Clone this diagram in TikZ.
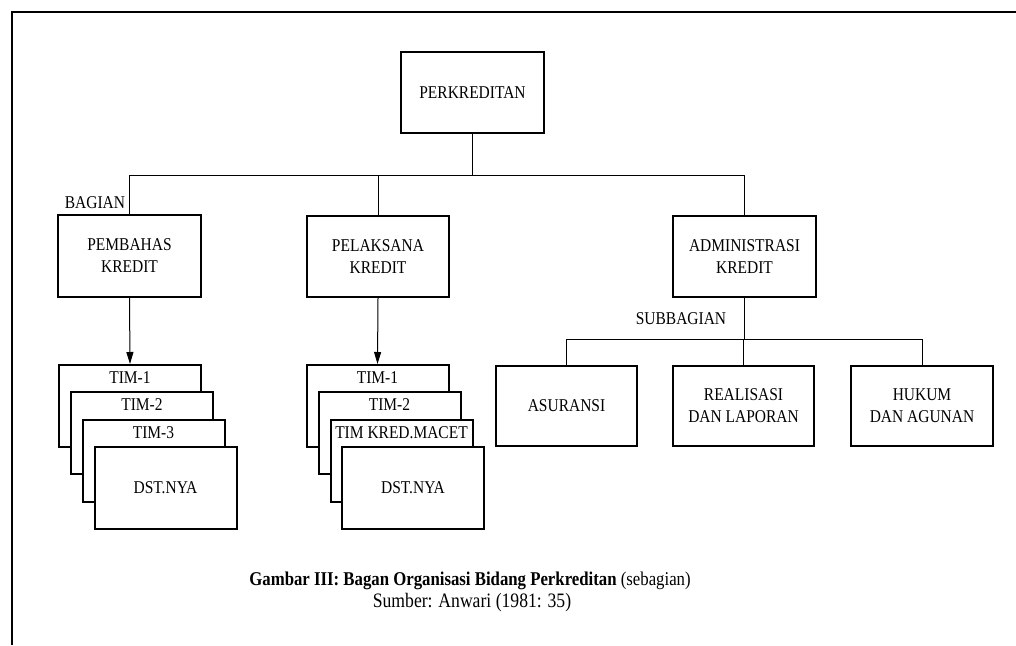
\documentclass[tikz,border=0pt]{standalone}
\usepackage{fontspec}
\setmainfont{Liberation Serif}[FakeStretch=0.86]
\usetikzlibrary{arrows.meta}

\tikzset{
  unit/.style={draw, line width=2pt, fill=white, minimum width=143pt,
               minimum height=81pt, inner sep=0pt, align=center,
               font=\fontsize{18}{22}\selectfont},
  team/.style={unit, minimum width=142pt, minimum height=82pt},
  tlabel/.style={inner sep=0pt, font=\fontsize{18}{22}\selectfont},
  link/.style={line width=1pt, draw=black},
  down/.style={link, -{Triangle[width=7pt,length=12pt]}},
}

\begin{document}
\begin{tikzpicture}[x=1pt, y=-1pt]
  \useasboundingbox (0,0) rectangle (1016,645);

  % page frame (top and left edges)
  \draw[line width=1.8pt] (12,645) -- (12,12) -- (1016,12);

  % top unit
  \node[unit] (top) at (472.5,92.5) {PERKREDITAN};

  % divisions
  \node[unit, minimum height=82pt] (pemb) at (129.5,256) {PEMBAHAS\\KREDIT};
  \node[unit, minimum width=142pt] (pel) at (378,256.5) {PELAKSANA\\KREDIT};
  \node[unit] (adm) at (744.5,256.5) {ADMINISTRASI\\KREDIT};

  % branches from the top unit
  \coordinate (bus) at (472,175);
  \draw[link] (top.south) -- (top.south |- bus);
  \draw[link] (pemb.north) |- (adm.north |- bus) -- (adm.north);
  \draw[link] (pel.north) -- (pel.north |- bus);
  \node[tlabel] (bag) at (95,203) {BAGIAN};

  % subdivisions of the administration unit
  \node[unit, minimum width=141pt, minimum height=80pt] (asu) at (566.5,406) {ASURANSI};
  \node[unit, minimum width=141pt, minimum height=80pt] (rea) at (743.5,406) {REALISASI\\DAN LAPORAN};
  \node[unit, minimum width=142pt, minimum height=80pt] (huk) at (922,406) {HUKUM\\DAN AGUNAN};
  \coordinate (sbus) at (744,339);
  \draw[link] (adm.south) -- (adm.south |- sbus);
  \draw[link] (asu.north) |- (huk.north |- sbus) -- (huk.north);
  \draw[link] (rea.north) -- (rea.north |- sbus);
  \node[tlabel] (sub) at (681,319) {SUBBAGIAN};

  % teams under PEMBAHAS KREDIT
  \node[team] (a1) at (130,406) {};
  \node[tlabel] at ([yshift=-14pt]a1.north) {TIM-1};
  \node[team] (a2) at (142,433) {};
  \node[tlabel] at ([yshift=-14pt]a2.north) {TIM-2};
  \node[team] (a3) at (153.5,460.5) {};
  \node[tlabel] at ([yshift=-14pt]a3.north) {TIM-3};
  \node[team] (a4) at (165.5,487.5) {DST.NYA};
  \draw[down] (pemb.south) -- (a1.north);

  % teams under PELAKSANA KREDIT
  \node[team] (b1) at (377.5,406) {};
  \node[tlabel] at ([yshift=-14pt]b1.north) {TIM-1};
  \node[team] (b2) at (389.5,433) {};
  \node[tlabel] at ([yshift=-14pt]b2.north) {TIM-2};
  \node[team] (b3) at (401.5,460.5) {};
  \node[tlabel] at ([yshift=-14pt]b3.north) {TIM KRED.MACET};
  \node[team] (b4) at (413,487.5) {DST.NYA};
  \draw[down] (pel.south) -- (b1.north);

  % caption
  \node[inner sep=0pt, font=\fontsize{19.5}{19}\selectfont] (cap) at (470,581)
    {\textbf{Gambar III: Bagan Organisasi Bidang Perkreditan} (sebagian)};
  \node[inner sep=0pt, font=\fontsize{20.5}{21}\selectfont] (src) at (472,603)
    {Sumber: Anwari (1981: 35)};
\end{tikzpicture}
\end{document}
